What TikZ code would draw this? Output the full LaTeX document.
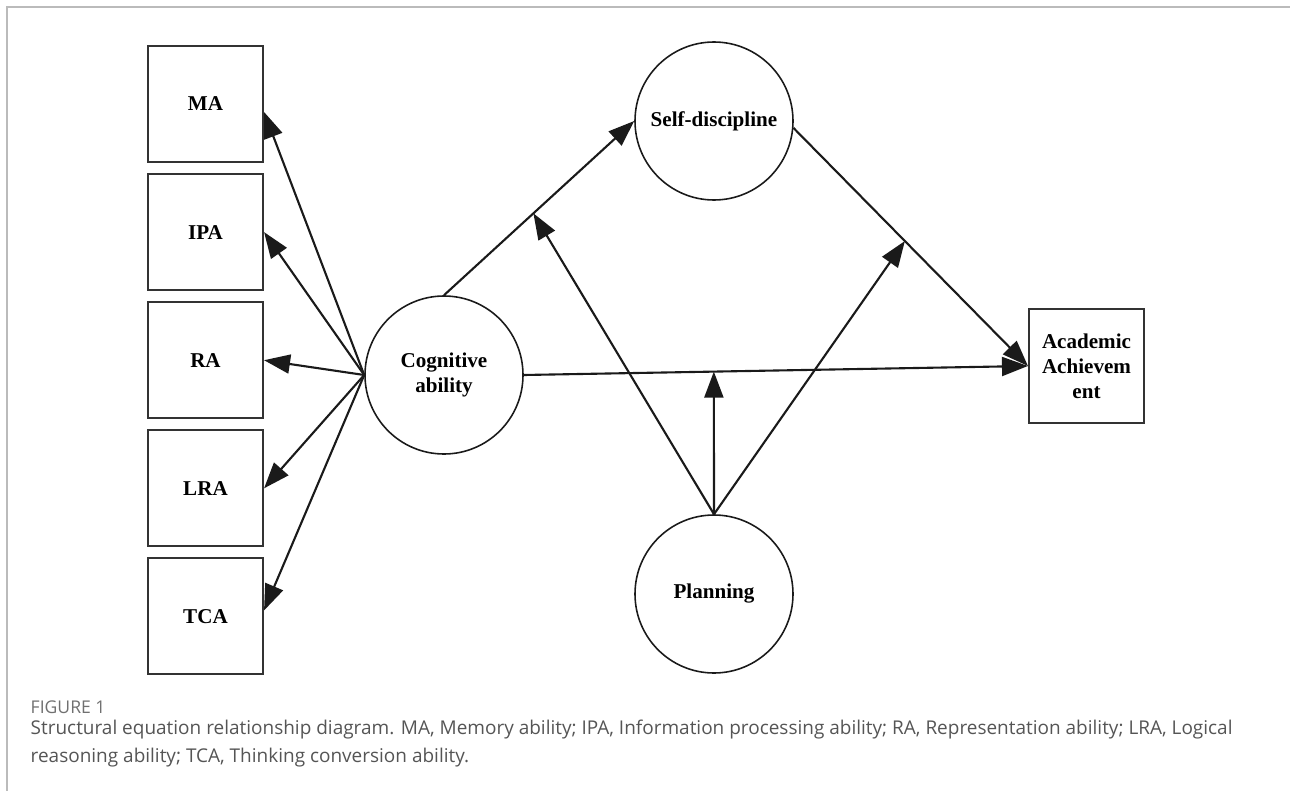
\documentclass[tikz,border=0pt]{standalone}
\usepackage{fontspec}
\setmainfont{Liberation Serif}
\newfontfamily\capfont{Open Sans}
\usepackage{xcolor}
\usetikzlibrary{arrows.meta, positioning, calc}
\definecolor{semLine}{HTML}{1A1A1A}
\definecolor{semBox}{HTML}{333333}
\definecolor{semFrame}{HTML}{BBBBBB}
\definecolor{semCap}{HTML}{555555}
\definecolor{semFig}{HTML}{707070}

\begin{document}
\begin{tikzpicture}[
  font=\fontsize{6}{7.1}\selectfont\bfseries, node distance=0.1cm,
  obs/.style={draw=semBox, line width=0.6pt, fill=white, align=center,
              minimum width=1.15cm, minimum height=1.16cm, inner sep=0pt},
  lat/.style={draw=semLine, line width=0.45pt, circle, align=center,
              minimum size=1.58cm, inner sep=0pt},
  arr/.style={-{Triangle[length=2.6mm, width=1.9mm]}, draw=semLine, line width=0.6pt},
  frame/.style={draw=semFrame, line width=0.45pt},
]
\useasboundingbox (0,0) rectangle (12.9,-7.91);
\draw[frame] (0.07,-7.91) -- (0.07,-0.07) -- (12.9,-0.07);

% indicators
\node[obs] (ma) at (2.055,-1.04) {MA};
\node[obs, below=of ma] (ipa) {IPA};
\node[obs, below=of ipa] (ra) {RA};
\node[obs, below=of ra] (lra) {LRA};
\node[obs, below=of lra] (tca) {TCA};

% latent variables
\node[lat] (cog) at (4.44,-3.75) {Cognitive\\ability};
\node[lat] (self) at (7.14,-1.21) {Self-discipline};
\node[lat] (plan) at (7.14,-5.94) {Planning};
\node[obs, minimum height=1.14cm] (aa) at (10.865,-3.66) {Academic\\Achievem\\ent};

\draw[arr] (cog.west) -- ([yshift=-0.08cm]ma.east);
\draw[arr] (cog.west) -- (ipa.east);
\draw[arr] (cog.west) -- (ra.east);
\draw[arr] (cog.west) -- (lra.east);
\draw[arr] (cog.west) -- ([yshift=0.06cm]tca.east);

\draw[arr] (cog.north) -- coordinate[pos=0.47] (m1) (self.west);
\draw[arr] (self.-5) -- coordinate[pos=0.475] (m3) (aa.west);
\draw[arr] (cog.east) -- coordinate[pos=0.377] (m2) (aa.west);

% moderation
\draw[arr] (plan.north) -- (m1);
\draw[arr] (plan.north) -- (m2);
\draw[arr] (plan.north) -- (m3);

% caption
\node[anchor=base west, inner sep=0pt, font=\capfont\fontsize{5}{6}\selectfont, text=semFig] (fig) at (0.30,-7.13) {FIGURE 1};
\node[anchor=north west, inner sep=0pt, align=left, font=\capfont\fontsize{5.4}{7.95}\selectfont, text=semCap] (cap) at (0.30,-7.19)
  {Structural equation relationship diagram. MA, Memory ability; IPA, Information processing ability; RA, Representation ability; LRA, Logical\\
   reasoning ability; TCA, Thinking conversion ability.};
\end{tikzpicture}
\end{document}
